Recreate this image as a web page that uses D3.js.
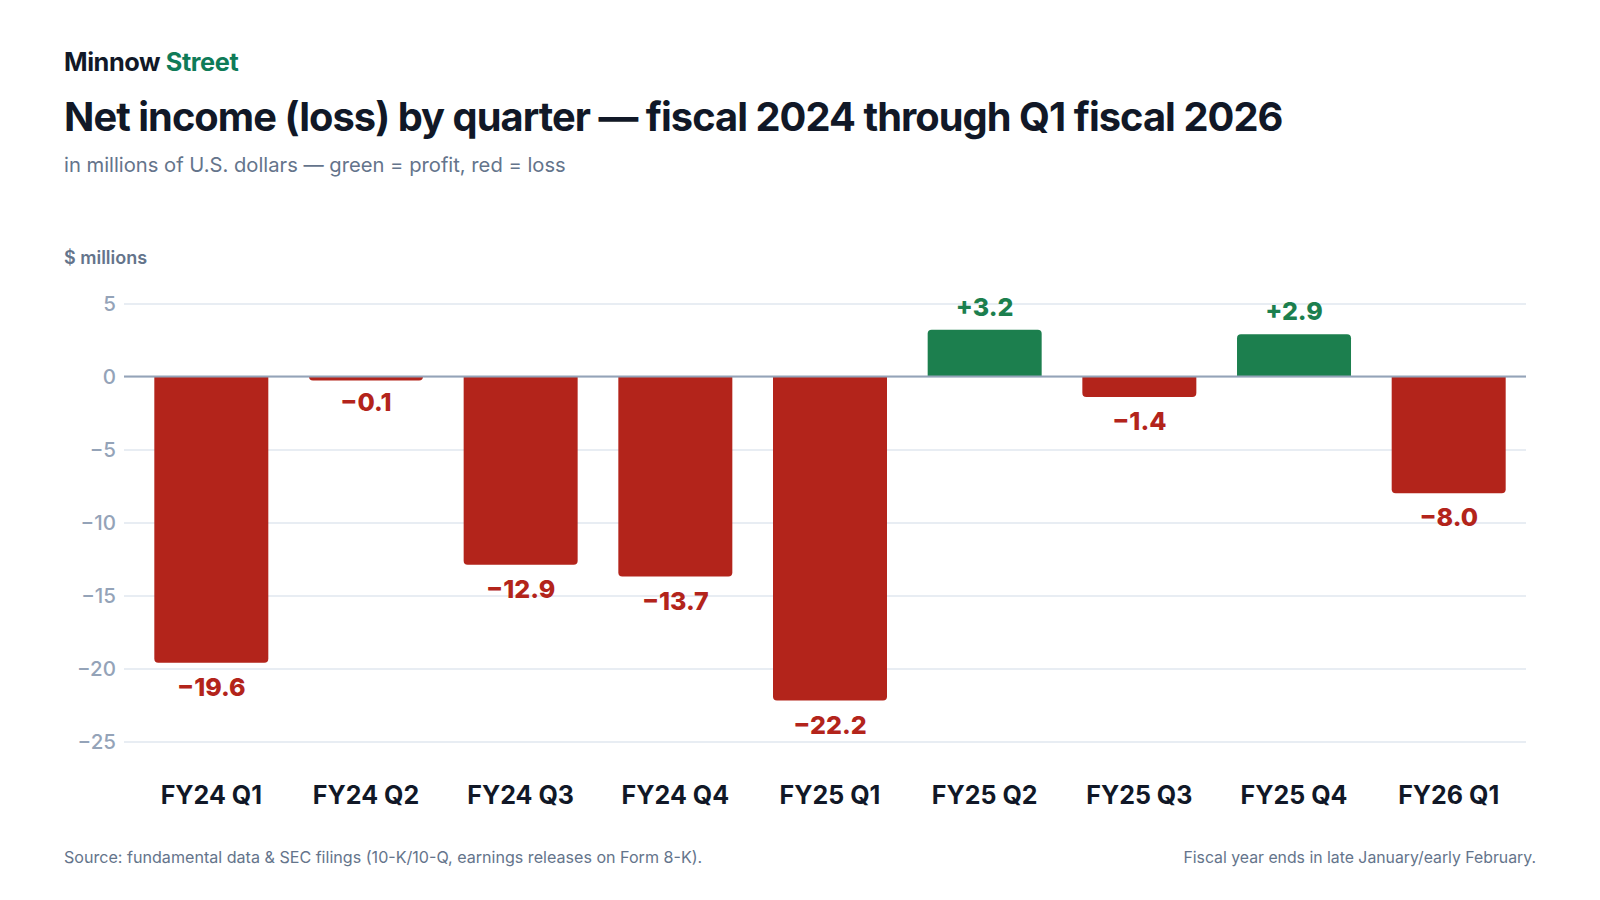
<!DOCTYPE html>
<html>
<head>
    <meta charset="utf-8">
    <script src="https://cdn.jsdelivr.net/npm/d3@7"></script>
    <title>Net income (loss) by quarter</title>
    <style>
        body { margin: 0; background: #ffffff; }
        svg { display: block; font-family: Inter, "Noto Sans", sans-serif; }
    </style>
</head>
<body>
<script>
    // quarters and net income ($ millions)
    var quarters = ["FY24 Q1", "FY24 Q2", "FY24 Q3", "FY24 Q4", "FY25 Q1",
                    "FY25 Q2", "FY25 Q3", "FY25 Q4", "FY26 Q1"];
    var netIncome = [-19.6, -0.1, -12.9, -13.7, -22.2, 3.2, -1.4, 2.9, -8.0];
    var yTicks = [5, 0, -5, -10, -15, -20, -25];

    var width = 1600;
    var height = 900;

    var red = "#b3241b";
    var green = "#1c7f4e";

    var svg = d3.select("body")
                .append("svg")
                .attr("width", width)
                .attr("height", height);

    // header
    var brand = svg.append("text")
        .attr("x", 64).attr("y", 71)
        .attr("font-size", 25.3).attr("font-weight", 700)
        .attr("letter-spacing", -0.4);
    brand.append("tspan").attr("fill", "#111827").text("Minnow ");
    brand.append("tspan").attr("fill", "#0f7b58").text("Street");

    svg.append("text")
        .attr("x", 64).attr("y", 131)
        .attr("font-size", 39.8).attr("font-weight", 700)
        .attr("letter-spacing", -0.95)
        .attr("fill", "#111827")
        .text("Net income (loss) by quarter \u2014 fiscal 2024 through Q1 fiscal 2026");

    svg.append("text")
        .attr("x", 64).attr("y", 172)
        .attr("font-size", 20.2)
        .attr("fill", "#64748b")
        .text("in millions of U.S. dollars \u2014 green = profit, red = loss");

    svg.append("text")
        .attr("x", 64).attr("y", 264)
        .attr("font-size", 18).attr("font-weight", 600)
        .attr("fill", "#64748b")
        .text("$ millions");

    // scales
    var xScale = d3.scaleBand()
        .domain(quarters)
        .range([124, 1536])
        .paddingInner(0.263)
        .paddingOuter(0.196);

    var yScale = d3.scaleLinear()
        .domain([-25, 5])
        .range([741.5, 303.5]);

    // grid
    var yAxis = d3.axisLeft(yScale)
        .tickValues(yTicks)
        .tickSize(-(1526 - 124))
        .tickPadding(8)
        .tickFormat(function(d){
            return d < 0 ? "\u2212" + Math.abs(d) : d;
        });

    var gy = svg.append("g")
        .attr("transform", "translate(124,0)")
        .call(yAxis);
    gy.select(".domain").remove();
    gy.selectAll(".tick line")
        .attr("stroke", "#e8edf3")
        .attr("stroke-width", 2);
    gy.selectAll(".tick text")
        .attr("font-size", 20.5)
        .attr("font-weight", 500)
        .attr("fill", "#94a3b8")
        .attr("font-family", "Inter, sans-serif");

    // bars: rounded only on the end away from zero, with a small minimum height
    var r = 4;
    var minH = 4;
    function barPath(d, i){
        var x0 = xScale(quarters[i]);
        var x1 = x0 + xScale.bandwidth();
        var y0 = yScale(0);
        var h = Math.max(minH, Math.abs(yScale(d) - y0));
        var y1 = d >= 0 ? y0 - h : y0 + h;
        var rr = Math.min(r, h);
        if (d >= 0) {
            return "M" + x0 + "," + y0 +
                   "V" + (y1 + rr) +
                   "Q" + x0 + "," + y1 + " " + (x0 + rr) + "," + y1 +
                   "H" + (x1 - rr) +
                   "Q" + x1 + "," + y1 + " " + x1 + "," + (y1 + rr) +
                   "V" + y0 + "Z";
        }
        return "M" + x0 + "," + y0 +
               "V" + (y1 - rr) +
               "Q" + x0 + "," + y1 + " " + (x0 + rr) + "," + y1 +
               "H" + (x1 - rr) +
               "Q" + x1 + "," + y1 + " " + x1 + "," + (y1 - rr) +
               "V" + y0 + "Z";
    }

    svg.selectAll("path.bar")
        .data(netIncome)
        .enter()
        .append("path")
        .attr("class", "bar")
        .attr("d", barPath)
        .attr("fill", function(d){ return d >= 0 ? green : red; });

    // zero line on top of bars
    svg.append("line")
        .attr("x1", 124).attr("x2", 1526)
        .attr("y1", yScale(0)).attr("y2", yScale(0))
        .attr("stroke", "#94a3b8")
        .attr("stroke-width", 2);

    // value labels
    svg.selectAll("text.value")
        .data(netIncome)
        .enter()
        .append("text")
        .attr("class", "value")
        .attr("text-anchor", "middle")
        .attr("x", function(d, i){ return xScale(quarters[i]) + xScale.bandwidth() / 2; })
        .attr("y", function(d){
            return d >= 0 ? yScale(d) - 14 : yScale(d) + 33;
        })
        .attr("font-size", 25)
        .attr("font-weight", 800)
        .attr("fill", function(d){ return d >= 0 ? green : red; })
        .text(function(d){
            return d >= 0 ? "+" + d.toFixed(1) : "\u2212" + Math.abs(d).toFixed(1);
        });

    // category labels
    var xAxis = d3.axisBottom(xScale).tickSize(0).tickPadding(0);
    var gx = svg.append("g")
        .attr("transform", "translate(0,786)")
        .call(xAxis);
    gx.select(".domain").remove();
    gx.selectAll(".tick text")
        .attr("font-size", 25)
        .attr("font-weight", 700)
        .attr("fill", "#111827")
        .attr("font-family", "Inter, sans-serif");

    // footer
    svg.append("text")
        .attr("x", 64).attr("y", 863)
        .attr("font-size", 16.1)
        .attr("fill", "#64748b")
        .text("Source: fundamental data & SEC filings (10-K/10-Q, earnings releases on Form 8-K).");

    svg.append("text")
        .attr("x", 1536).attr("y", 863)
        .attr("text-anchor", "end")
        .attr("font-size", 15.8)
        .attr("fill", "#64748b")
        .text("Fiscal year ends in late January/early February.");
</script>
</body>
</html>
